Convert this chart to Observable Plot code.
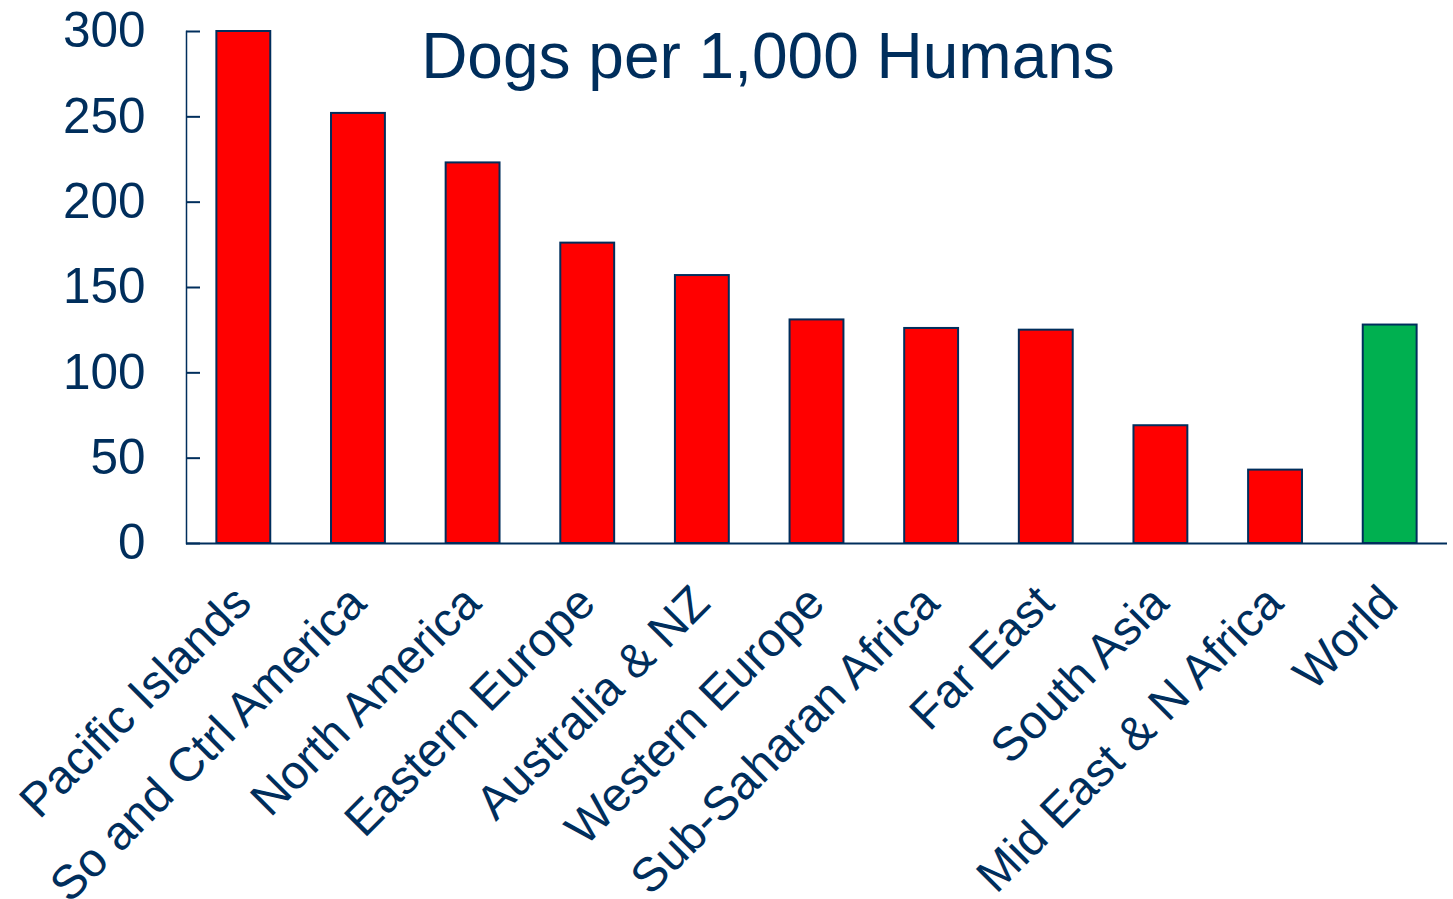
<!DOCTYPE html>
<html>
<head>
<meta charset="utf-8">
<script src="https://cdn.jsdelivr.net/npm/d3@7"></script>
<script src="https://cdn.jsdelivr.net/npm/@observablehq/plot@0.6"></script>
<style>
  html, body { margin: 0; padding: 0; background: #fff; overflow: hidden; }
  #chart svg { display: block; }
</style>
</head>
<body>
<div id="chart"></div>
<script>
const regions = ["Pacific Islands", "So and Ctrl America", "North America", "Eastern Europe", "Australia & NZ", "Western Europe", "Sub-Saharan Africa", "Far East", "South Asia", "Mid East & N Africa", "World"];
const dogsPer1000 = [300, 252, 223, 176, 157, 131, 126, 125, 69, 43, 128];
const yTicks = [0, 50, 100, 150, 200, 250, 300];
const title = "Dogs per 1,000 Humans";

const navy = "#002E5C";
const red = "#FF0000";
const green = "#00B050";

const data = regions.map((r, i) => ({region: r, value: dogsPer1000[i]}));

const chart = Plot.plot({
  width: 1453,
  height: 899,
  marginLeft: 186,
  marginRight: 6,
  marginTop: 31,
  marginBottom: 356,
  style: {fontFamily: "'Liberation Sans', Arial, sans-serif", background: "#fff"},
  x: {domain: regions, paddingInner: 0.53, paddingOuter: 0.265, round: false, axis: null},
  y: {domain: [0, 300], axis: null},
  marks: [
    Plot.barY(data, {x: "region", y: "value", fill: d => d.region === "World" ? green : red, stroke: navy, strokeWidth: 2}),
    Plot.frame({anchor: "left", stroke: navy, strokeWidth: 1.5}),
    Plot.ruleY([0], {stroke: navy, strokeWidth: 2}),
    Plot.axisY({ticks: yTicks, tickSize: -14, tickPadding: 55, fontSize: 49.5, color: navy, strokeWidth: 2, label: null, tickFormat: d => String(d)}),
    Plot.text(regions, {x: d => d, text: d => d, frameAnchor: "bottom", rotate: -45, textAnchor: "end", lineAnchor: "bottom", dx: 10, dy: 62, fontSize: 47.5, fill: navy}),
    Plot.text([title], {text: d => d, frameAnchor: "top", dx: -49, dy: 46, lineAnchor: "bottom", fontSize: 64, fill: navy})
  ]
});
document.getElementById("chart").appendChild(chart);
</script>
</body>
</html>
